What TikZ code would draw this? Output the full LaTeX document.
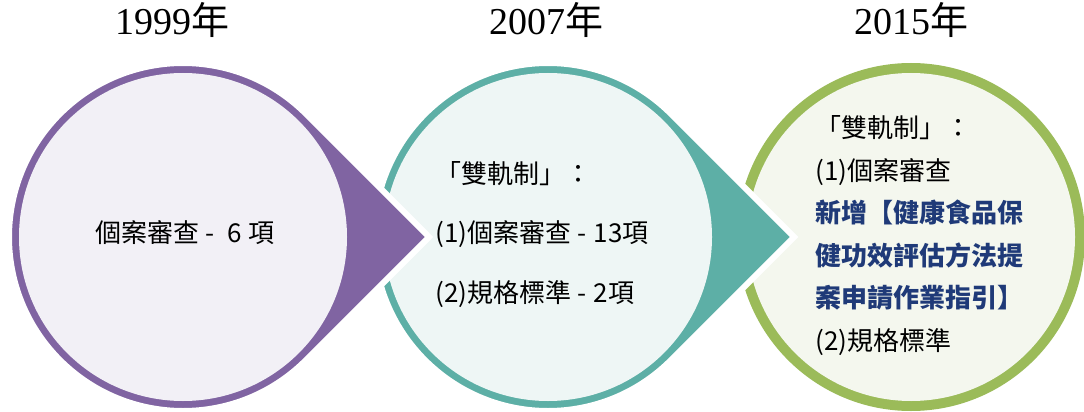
\documentclass[tikz,border=0pt]{standalone}
\usepackage{fontspec}
\newfontfamily\cjk{Noto Sans CJK TC}
\newfontfamily\yrfont{Liberation Serif}
\usetikzlibrary{calc}
\definecolor{cpurple}{HTML}{8064A2}
\definecolor{fpurple}{HTML}{F2F0F6}
\definecolor{cteal}{HTML}{5DAFA6}
\definecolor{fteal}{HTML}{EEF6F5}
\definecolor{cgreen}{HTML}{9BBB59}
\definecolor{fgreen}{HTML}{F4F7EE}
\definecolor{navy}{HTML}{1F3A78}
\begin{document}
\begin{tikzpicture}[x=0.75pt,y=0.75pt,
  year/.style={font=\fontsize{28.5}{30}\selectfont, text height=0.7em, text depth=0pt, inner sep=0pt},
  body/.style={font=\cjk\fontsize{19.5}{22}\selectfont, text height=0.88em, text depth=0.12em, inner sep=0pt},
  bodyb/.style={body, font=\cjk\bfseries\fontsize{19.5}{22}\selectfont, text=navy},
  whiteedge/.style={draw=white, line width=4.5pt, miter limit=10}]
\useasboundingbox (0,0) rectangle (1084,411);
\def\drop#1#2#3{%
  \path[whiteedge, fill=#2] ($(#1)+(45:130.5pt)$) arc[start angle=45, end angle=315, radius=130.5pt] -- ($(#1)+(0:184.5pt)$) -- cycle;
  \fill[#3] (#1) circle[radius=123pt];}
\coordinate (c1) at (183,174);
\coordinate (c2) at (548,174);
\coordinate (c3) at (911,174);
\fill[cgreen] (c3) circle[radius=130.5pt];
\fill[fgreen] (c3) circle[radius=123pt];
\drop{c2}{cteal}{fteal}
\drop{c1}{cpurple}{fpurple}
% years
\node[year] (y1) at (172,381) {{\yrfont 1999}{\cjk 年}};
\node[year] (y2) at (546,381) {{\yrfont 2007}{\cjk 年}};
\node[year] (y3) at (911,381) {{\yrfont 2015}{\cjk 年}};
% circle 1
\node[body] (t1) at (185,174) {個案審查 -\hspace{0.5em}6 項};
% circle 2
\node[body, anchor=west] (t21) at (435,233) {「雙軌制」：};
\node[body, anchor=west] (t22) at (435,174) {(1)個案審查 -\hspace{0.3em}13項};
\node[body, anchor=west] (t23) at (435,114) {(2)規格標準 -\hspace{0.3em}2項};
% circle 3
\node[body, anchor=west] (t31) at (815,279) {「雙軌制」：};
\node[body, anchor=west] (t32) at (815,236) {(1)個案審查};
\node[bodyb, anchor=west] (t33) at (815,194) {新增【健康食品保};
\node[bodyb, anchor=west] (t34) at (815,151) {健功效評估方法提};
\node[bodyb, anchor=west] (t35) at (815,109) {案申請作業指引】};
\node[body, anchor=west] (t36) at (815,66) {(2)規格標準};
\end{tikzpicture}
\end{document}
